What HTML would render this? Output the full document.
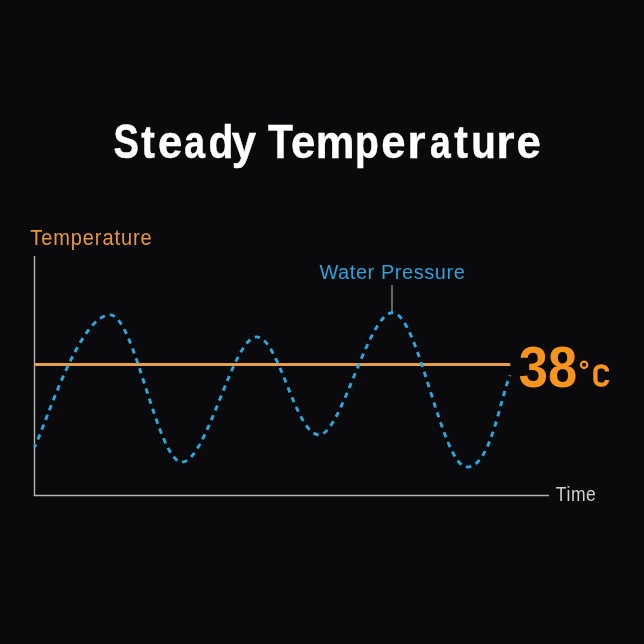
<!DOCTYPE html>
<html><head><meta charset="utf-8"><style>
html,body{margin:0;padding:0;background:#0a090c;width:644px;height:644px;overflow:hidden}
svg{display:block;will-change:transform}
text{font-family:"Liberation Sans",sans-serif}
</style></head><body>
<svg width="644" height="644" viewBox="0 0 644 644">
<rect width="644" height="644" fill="#0a090c"/>
<text transform="translate(113.40,158.4) scale(0.7846,1)" font-size="48.5" font-weight="bold" fill="#ffffff" stroke="#ffffff" stroke-width="0.510">S</text>
<text transform="translate(141.37,158.4) scale(0.8954,1)" font-size="45.6" font-weight="bold" fill="#ffffff" stroke="#ffffff" stroke-width="0.447">t</text>
<text transform="translate(158.03,158.4) scale(0.9583,1)" font-size="45.6" font-weight="bold" fill="#ffffff" stroke="#ffffff" stroke-width="0.417">e</text>
<text transform="translate(184.22,158.4) scale(0.8169,1)" font-size="45.6" font-weight="bold" fill="#ffffff" stroke="#ffffff" stroke-width="0.490">a</text>
<text transform="translate(208.49,158.4) scale(0.8954,1)" font-size="45.6" font-weight="bold" fill="#ffffff" stroke="#ffffff" stroke-width="0.447">d</text>
<text transform="translate(231.86,158.4) scale(0.9602,1)" font-size="45.6" font-weight="bold" fill="#ffffff" stroke="#ffffff" stroke-width="0.417">y</text>
<text transform="translate(268.05,158.4) scale(0.8442,1)" font-size="48.5" font-weight="bold" fill="#ffffff" stroke="#ffffff" stroke-width="0.474">T</text>
<text transform="translate(291.08,158.4) scale(0.9583,1)" font-size="45.6" font-weight="bold" fill="#ffffff" stroke="#ffffff" stroke-width="0.417">e</text>
<text transform="translate(315.70,158.4) scale(0.9544,1)" font-size="45.6" font-weight="bold" fill="#ffffff" stroke="#ffffff" stroke-width="0.419">m</text>
<text transform="translate(354.98,158.4) scale(0.853,1)" font-size="45.6" font-weight="bold" fill="#ffffff" stroke="#ffffff" stroke-width="0.469">p</text>
<text transform="translate(381.18,158.4) scale(0.9583,1)" font-size="45.6" font-weight="bold" fill="#ffffff" stroke="#ffffff" stroke-width="0.417">e</text>
<text transform="translate(407.22,158.4) scale(1.0328,1)" font-size="45.6" font-weight="bold" fill="#ffffff" stroke="#ffffff" stroke-width="0.387">r</text>
<text transform="translate(429.92,158.4) scale(0.8169,1)" font-size="45.6" font-weight="bold" fill="#ffffff" stroke="#ffffff" stroke-width="0.490">a</text>
<text transform="translate(454.32,158.4) scale(0.8954,1)" font-size="45.6" font-weight="bold" fill="#ffffff" stroke="#ffffff" stroke-width="0.447">t</text>
<text transform="translate(471.29,158.4) scale(0.884,1)" font-size="45.6" font-weight="bold" fill="#ffffff" stroke="#ffffff" stroke-width="0.452">u</text>
<text transform="translate(496.32,158.4) scale(1.0328,1)" font-size="45.6" font-weight="bold" fill="#ffffff" stroke="#ffffff" stroke-width="0.387">r</text>
<text transform="translate(516.48,158.4) scale(0.9583,1)" font-size="45.6" font-weight="bold" fill="#ffffff" stroke="#ffffff" stroke-width="0.417">e</text>
<text transform="translate(30.24,245.10) scale(0.9183,1)" font-size="21.8" font-weight="normal" letter-spacing="1.0" fill="#e8973f">Temperature</text>
<text transform="translate(319.46,278.90) scale(0.9685,1)" font-size="20.6" font-weight="normal" letter-spacing="0.6" fill="#2aa4da">Water Pressure</text>
<text transform="translate(555.85,500.50) scale(0.8971,1)" font-size="19.6" font-weight="normal" letter-spacing="0.6" fill="#d2d2d2">Time</text>
<text transform="translate(518.86,386.80) scale(0.9136,1)" font-size="57.4" font-weight="bold" letter-spacing="0" fill="#f7941d">38</text>
<circle cx="584.1" cy="364.75" r="3.2" fill="none" stroke="#f7941d" stroke-width="2.2"/>
<path d="M606.9,371.4 V370.8 C606.9,368 604.3,366.3 601.3,366.3 H600.9 C597.7,366.3 595.4,368.5 595.4,371.7 V379.3 C595.4,382.5 597.7,384.7 600.9,384.7 H601.3 C604.3,384.7 606.9,383 606.9,380.2 V380" fill="none" stroke="#f7941d" stroke-width="4.3"/>
<line x1="34.5" y1="256" x2="34.5" y2="495.5" stroke="#b4b4b4" stroke-width="1.4"/>
<line x1="33.8" y1="495.5" x2="549" y2="495.5" stroke="#b4b4b4" stroke-width="1.4"/>
<line x1="392" y1="285" x2="392" y2="312" stroke="#858389" stroke-width="1.5"/>
<line x1="34.5" y1="364.4" x2="510.3" y2="364.4" stroke="#e89e48" stroke-width="3.0"/>
<path d="M34.5,447.2 C46.3,423.2 79.2,314.9 110.2,314.9 C134.6,314.9 157.4,462.1 181.9,462.1 C207.0,462.1 232.7,336.9 256.6,336.9 C278.9,336.9 295.3,434.8 319.1,434.8 C341.3,434.8 368.2,312.8 392.5,312.8 C418.6,312.8 441.4,467.0 467.1,467.0 C490.7,467.0 499.9,399.3 510.0,375.2" fill="none" stroke="#2ba8de" stroke-width="2.9" stroke-dasharray="5.4 5.145" stroke-dashoffset="2.019"/>
</svg>
</body></html>
